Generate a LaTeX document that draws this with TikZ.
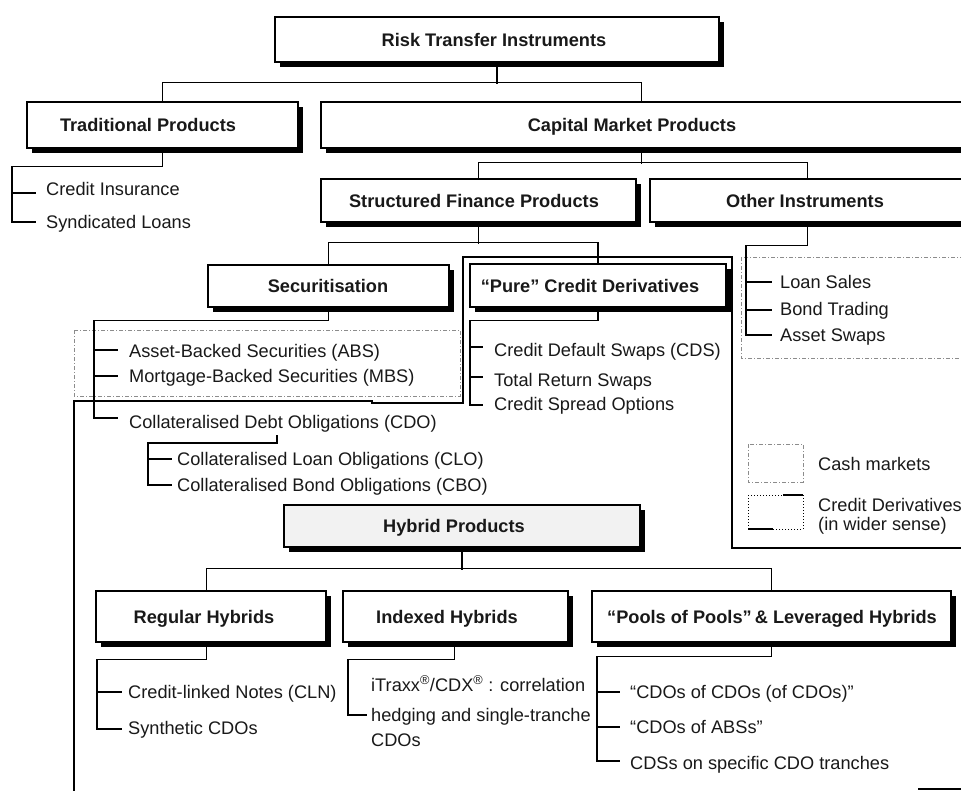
\documentclass[tikz,border=0pt]{standalone}
\usepackage{fontspec}
\setmainfont{Liberation Sans}
\tikzset{
  conn/.style={line width=1.2pt},
  frameline/.style={line width=1.2pt},
  cash/.style={draw=black!45, line width=0.8pt, dash pattern=on 4pt off 2pt on 1pt off 2pt},
  titletext/.style={font=\bfseries\fontsize{18.2}{22}\selectfont, inner sep=0pt, text=black!90},
  itemtext/.style={font=\fontsize{18.2}{22}\selectfont, inner sep=0pt, text=black!90, anchor=base west},
  boxst/.style={draw, line width=1.2pt, inner sep=0pt}
}
% [fill]{name}{x1}{y1}{x2}{y2}{text x}{text}
\newcommand\mybox[8][white]{%
  \fill[black] ({#3+5},{#4+5}) rectangle ({#5+5},{#6+5});
  \node[boxst, fill=#1, minimum width={#5-#3}, minimum height={#6-#4}] (#2) at ({(#3+#5)/2},{(#4+#6)/2}) {};
  \node[titletext, anchor=base] (#2-t) at (#7,{(#4+#6)/2+6.5}) {#8};
}
\newcommand\itm[4]{\node[itemtext] (#1) at (#2,#3) {#4};}
\begin{document}
\begin{tikzpicture}[x=1pt,y=-1pt]
\useasboundingbox (0,0) rectangle (961,790);
\clip (0,0) rectangle (961,790);
\fill[white] (0,0) rectangle (961,790);

% cash market areas
\draw[cash] (74,330) rectangle (460,396);
\draw[cash] (741,257) rectangle (990,358);

% credit derivatives (wider sense) frame
\draw[frameline] (74,800) -- (74,401) -- (372,401) -- (372,403) -- (463,403) -- (463,257) -- (732,257) -- (732,548) -- (990,548);
\draw[frameline] (918,789) -- (990,789);

% boxes
\mybox{risk}{275}{17}{719}{62}{494}{Risk Transfer Instruments}
\mybox{trad}{27}{102}{298}{148}{148}{Traditional Products}
\mybox{cap}{321}{102}{990}{148}{632}{Capital Market Products}
\mybox{struct}{321}{179}{636}{222}{474}{Structured Finance Products}
\mybox{other}{650}{179}{990}{222}{805}{Other Instruments}
\mybox{secur}{208}{265}{449}{307}{328}{Securitisation}
\mybox{pure}{470}{264}{726}{307}{590}{“Pure” Credit Derivatives}
\mybox[black!5]{hybrid}{284}{505}{640}{547}{454}{Hybrid Products}
\mybox{regular}{96}{591}{326}{642}{204}{Regular Hybrids}
\mybox{indexed}{343}{591}{568}{642}{447}{Indexed Hybrids}
\mybox{pools}{592}{591}{951}{642}{772}{“Pools of Pools”\,\& Leveraged Hybrids}

% items
\itm{ci}{46}{195}{Credit Insurance}
\itm{sl}{46}{228}{Syndicated Loans}
\itm{abs}{129}{357}{Asset-Backed Securities (ABS)}
\itm{mbs}{129}{382}{Mortgage-Backed Securities (MBS)}
\itm{cdo}{129}{428}{Collateralised Debt Obligations (CDO)}
\itm{clo}{177}{465}{Collateralised Loan Obligations (CLO)}
\itm{cbo}{177}{491}{Collateralised Bond Obligations (CBO)}
\itm{cds}{494}{356}{Credit Default Swaps (CDS)}
\itm{trs}{494}{386}{Total Return Swaps}
\itm{cso}{494}{410}{Credit Spread Options}
\itm{ls}{780}{288}{Loan Sales}
\itm{bt}{780}{315}{Bond Trading}
\itm{as}{780}{341}{Asset Swaps}
\itm{cm}{818}{470}{Cash markets}
\itm{cd1}{818}{511}{Credit Derivatives}
\itm{cd2}{818}{530}{(in wider sense)}
\itm{cln}{128}{698}{Credit-linked Notes (CLN)}
\itm{syn}{128}{734}{Synthetic CDOs}
\itm{itx1}{371}{691}{iTraxx\textsuperscript{®}/CDX\textsuperscript{®} : correlation}
\itm{itx2}{371}{721}{hedging and single-tranche}
\itm{itx3}{371}{746}{CDOs}
\itm{pp1}{630}{698}{“CDOs of CDOs (of CDOs)”}
\itm{pp2}{630}{733}{“CDOs of ABSs”}
\itm{pp3}{630}{769}{CDSs on specific CDO tranches}

% legend
\draw[cash] (748,444) rectangle (803,482);
\draw[line width=1pt, dotted] (748,495) -- (783,495);
\draw[line width=1.2pt] (783,495) -- (803,495);
\draw[line width=1pt, dotted] (803,495) -- (803,529) -- (773,529);
\draw[line width=1.2pt] (773,529) -- (748,529);
\draw[line width=1pt, dotted] (748,529) -- (748,495);

% connectors
\draw[conn] (risk.south) -- ++(0,21);
\draw[conn] (trad.north) -- ++(0,-19) -| ([xshift=321pt]cap.north west);
\draw[conn] (trad.south) -- ++(0,18) -| (12,222) -- (36,222);
\draw[conn] (12,193) -- (36,193);

\draw[conn] ([xshift=321pt]cap.south west) -- ++(0,15);
\draw[conn] (struct.north) -- ++(0,-16) -| ([xshift=158pt]other.north west);

\draw[conn] (struct.south) -- ++(0,21);
\draw[conn] (secur.north) -- ++(0,-22) -| (pure.north);

\draw[conn] (secur.south) -- ++(0,13) -| (94,418) -- (118,418);
\draw[conn] (94,350) -- (118,350);
\draw[conn] (94,376) -- (118,376);

\draw[conn] (277,435) -- (277,443) -| (148,485) -- (172,485);
\draw[conn] (148,459) -- (172,459);

\draw[conn] (pure.south) -- ++(0,13) -| (470,405) -- (483,405);
\draw[conn] (470,347) -- (483,347);
\draw[conn] (470,377) -- (483,377);

\draw[conn] ([xshift=158pt]other.south west) -- ++(0,23) -| (746,335) -- (772,335);
\draw[conn] (746,282) -- (772,282);
\draw[conn] (746,310) -- (772,310);

\draw[conn] (hybrid.south) -- ++(0,22);
\draw[conn] ([xshift=111pt]regular.north west) -- ++(0,-22) -| (pools.north);

\draw[conn] ([xshift=111pt]regular.south west) -- ++(0,17) -| (97,729) -- (122,729);
\draw[conn] (97,692) -- (122,692);

\draw[conn] ([xshift=112pt]indexed.south west) -- ++(0,17) -| (348,715) -- (367,715);

\draw[conn] (pools.south) -- ++(0,14) -| (597,761) -- (620,761);
\draw[conn] (597,692) -- (620,692);
\draw[conn] (597,727) -- (620,727);
\end{tikzpicture}
\end{document}
